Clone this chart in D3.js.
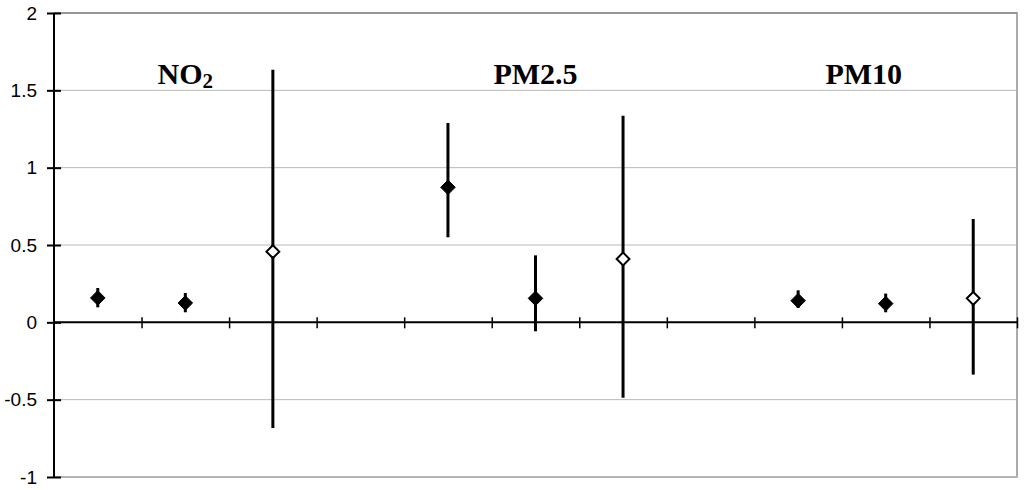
<!DOCTYPE html>
<html>
<head>
<meta charset="utf-8">
<script src="https://cdn.jsdelivr.net/npm/d3@7"></script>
<style>
  body { margin: 0; background: #fff; }
  svg { display: block; }
</style>
</head>
<body>
<div id="chart"></div>
<script>
// Category slots (11 slots, 3 and 7 left empty as spacers)
const slots = [0, 1, 2, 4, 5, 6, 8, 9, 10];
const estimates = [0.158, 0.125, 0.457, 0.873, 0.155, 0.41, 0.14, 0.121, 0.155];
const lower = [0.097, 0.065, -0.683, 0.55, -0.058, -0.487, 0.093, 0.065, -0.338];
const upper = [0.222, 0.19, 1.633, 1.289, 0.433, 1.336, 0.207, 0.186, 0.668];
const filled = [true, true, false, true, true, false, true, true, false];

const yTicks = [-1, -0.5, 0, 0.5, 1, 1.5, 2];
const groupLabels = ['NO', 'PM2.5', 'PM10'];
const groupSubs = ['2', '', ''];
const groupPos = [1.5, 5.5, 9.25];

const width = 1024;
const height = 490;
const plot = { left: 54, right: 1017, top: 13, bottom: 477 };

const svg = d3.select('#chart')
    .append('svg')
    .attr('width', width)
    .attr('height', height);

const x = d3.scaleLinear().domain([0, 11]).range([plot.left, plot.right]);
const y = d3.scaleLinear().domain([-1, 2]).range([plot.bottom, plot.top]);

// Plot area border
svg.append('rect')
    .attr('x', plot.left)
    .attr('y', plot.top)
    .attr('width', plot.right - plot.left)
    .attr('height', plot.bottom - plot.top)
    .attr('fill', 'none')
    .attr('stroke', '#8f8f8f')
    .attr('stroke-width', 1.5);

// Gridlines
svg.selectAll('line.grid')
    .data(yTicks.filter(d => d !== 0))
    .enter()
    .append('line')
    .attr('class', 'grid')
    .attr('x1', plot.left)
    .attr('x2', plot.right)
    .attr('y1', d => y(d))
    .attr('y2', d => y(d))
    .attr('stroke', d => (d === 2 ? '#8f8f8f' : '#b8b8b8'))
    .attr('stroke-width', d => (d === 2 || d === -1 ? 1.5 : 1));

// Y axis
const yAxis = d3.axisLeft(y)
    .tickValues(yTicks)
    .tickSize(7)
    .tickPadding(10)
    .tickFormat(d => String(d));

const yg = svg.append('g')
    .attr('transform', `translate(${plot.left},0)`)
    .call(yAxis);
yg.select('.domain').remove();
yg.selectAll('.tick line')
    .attr('x1', -7)
    .attr('x2', 7)
    .attr('stroke', '#000')
    .attr('stroke-width', 2);
yg.selectAll('.tick text')
    .attr('font-family', 'Liberation Sans, Arial, sans-serif')
    .attr('font-size', '19px')
    .attr('fill', '#000');
svg.append('line')
    .attr('x1', plot.left).attr('x2', plot.left)
    .attr('y1', plot.top).attr('y2', plot.bottom)
    .attr('stroke', '#000').attr('stroke-width', 2);

// X axis on zero line
const xg = svg.append('g')
    .attr('transform', `translate(0,${y(0)})`)
    .call(d3.axisBottom(x).tickValues(d3.range(1, 12)).tickSize(5).tickFormat(''));
xg.select('.domain')
    .attr('d', `M${plot.left},0H${plot.right}`)
    .attr('stroke', '#000')
    .attr('stroke-width', 2);
xg.selectAll('.tick line')
    .attr('y1', -5)
    .attr('y2', 6)
    .attr('stroke', '#000')
    .attr('stroke-width', 1.5);

// Error bars
const points = slots.map((s, i) => ({
    slot: s, est: estimates[i], lo: lower[i], hi: upper[i], filled: filled[i]
}));

svg.selectAll('line.err')
    .data(points)
    .enter()
    .append('line')
    .attr('class', 'err')
    .attr('x1', d => x(d.slot + 0.5))
    .attr('x2', d => x(d.slot + 0.5))
    .attr('y1', d => y(d.hi))
    .attr('y2', d => y(d.lo))
    .attr('stroke', '#000')
    .attr('stroke-width', 3);

// Diamond markers
const diamond = d3.symbol().type(d3.symbolDiamond2);
svg.selectAll('path.pt')
    .data(points)
    .enter()
    .append('path')
    .attr('class', 'pt')
    .attr('d', d => diamond.size(d.filled ? 135 : 105)())
    .attr('transform', d => `translate(${x(d.slot + 0.5)},${y(d.est)})`)
    .attr('fill', d => (d.filled ? '#000' : '#fff'))
    .attr('stroke', '#000')
    .attr('stroke-width', d => (d.filled ? 1 : 2));

// Group labels
const labels = svg.selectAll('text.group')
    .data(groupLabels)
    .enter()
    .append('text')
    .attr('class', 'group')
    .attr('x', (d, i) => x(groupPos[i]))
    .attr('y', 84)
    .attr('text-anchor', 'middle')
    .attr('font-family', 'Liberation Serif, Times New Roman, serif')
    .attr('font-weight', 'bold')
    .attr('font-size', '30px')
    .attr('fill', '#000');
labels.append('tspan').text(d => d);
labels.append('tspan')
    .attr('font-size', '21px')
    .attr('dy', 4)
    .text((d, i) => groupSubs[i]);
</script>
</body>
</html>
